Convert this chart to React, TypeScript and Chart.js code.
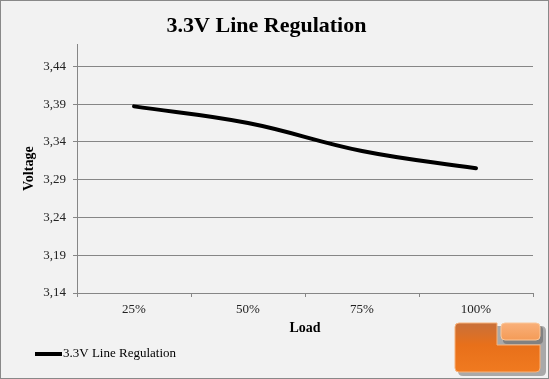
import React, { useEffect, useRef } from "react";
import { Chart, registerables } from "chart.js";

Chart.register(...registerables);

const categories = ["25%", "50%", "75%", "100%"];
const seriesLabel = "3.3V Line Regulation";
const voltages = [3.387, 3.365, 3.328, 3.305];
const yTickValues = [3.14, 3.19, 3.24, 3.29, 3.34, 3.39, 3.44];
const yMin = 3.14;
const yMax = 3.469;
const chartTitle = "3.3V Line Regulation";
const xTitle = "Load";
const yTitle = "Voltage";

const FONT = "'Liberation Serif', 'DejaVu Serif', serif";

const framePlugin = {
  id: "frame",
  beforeDraw(chart: any) {
    const { ctx, width, height } = chart;
    ctx.save();
    ctx.fillStyle = "#f2f2f2";
    ctx.fillRect(0, 0, width, height);
    ctx.strokeStyle = "#898989";
    ctx.lineWidth = 1;
    ctx.strokeRect(0.5, 0.5, width - 1, height - 1);
    ctx.restore();
  },
  afterDraw(chart: any) {
    const { ctx } = chart;
    // legend
    const ds = chart.data.datasets[0];
    ctx.save();
    ctx.strokeStyle = ds.borderColor;
    ctx.lineWidth = 4;
    ctx.lineCap = "butt";
    ctx.beginPath();
    ctx.moveTo(35, 354);
    ctx.lineTo(62, 354);
    ctx.stroke();
    ctx.fillStyle = "#000";
    ctx.font = `13px ${FONT}`;
    ctx.textBaseline = "middle";
    ctx.textAlign = "left";
    ctx.fillText(ds.label, 63, 354);
    ctx.restore();

    // logo
    ctx.save();
    const rr = (x: number, y: number, w: number, h: number, r: number) => {
      ctx.beginPath();
      ctx.moveTo(x + r, y);
      ctx.lineTo(x + w - r, y);
      ctx.quadraticCurveTo(x + w, y, x + w, y + r);
      ctx.lineTo(x + w, y + h - r);
      ctx.quadraticCurveTo(x + w, y + h, x + w - r, y + h);
      ctx.lineTo(x + r, y + h);
      ctx.quadraticCurveTo(x, y + h, x, y + h - r);
      ctx.lineTo(x, y + r);
      ctx.quadraticCurveTo(x, y, x + r, y);
      ctx.closePath();
    };
    // shadow
    ctx.fillStyle = "rgba(80,80,80,0.45)";
    rr(458, 326, 88, 50, 5);
    ctx.fill();
    // L shape
    const g = ctx.createLinearGradient(0, 323, 0, 372);
    g.addColorStop(0, "#c8703a");
    g.addColorStop(0.45, "#e8701a");
    g.addColorStop(1, "#f07a20");
    ctx.fillStyle = g;
    ctx.beginPath();
    ctx.moveTo(459, 323);
    ctx.lineTo(497, 323);
    ctx.lineTo(497, 345);
    ctx.lineTo(540, 345);
    ctx.lineTo(540, 368);
    ctx.quadraticCurveTo(540, 372, 536, 372);
    ctx.lineTo(459, 372);
    ctx.quadraticCurveTo(455, 372, 455, 368);
    ctx.lineTo(455, 327);
    ctx.quadraticCurveTo(455, 323, 459, 323);
    ctx.closePath();
    ctx.fill();
    ctx.strokeStyle = "#f8b27a";
    ctx.lineWidth = 1;
    ctx.stroke();
    // top right block
    const g2 = ctx.createLinearGradient(0, 323, 0, 341);
    g2.addColorStop(0, "#f9b07a");
    g2.addColorStop(1, "#f49a55");
    ctx.fillStyle = "rgba(90,90,90,0.5)";
    rr(503, 326, 40, 18, 4);
    ctx.fill();
    ctx.fillStyle = g2;
    rr(501, 323, 39, 17, 4);
    ctx.fill();
    ctx.strokeStyle = "#fbc79a";
    ctx.stroke();
    ctx.restore();
  },
};

export default function App() {
  const ref = useRef<HTMLCanvasElement | null>(null);
  useEffect(() => {
    if (!ref.current) return;
    const chart = new Chart(ref.current, {
      type: "line",
      data: {
        labels: categories,
        datasets: [
          {
            label: seriesLabel,
            data: voltages,
            borderColor: "#000000",
            backgroundColor: "#000000",
            borderWidth: 4,
            pointRadius: 0,
            tension: 0.4,
            fill: false,
            borderCapStyle: "round",
          },
        ],
      },
      options: {
        animation: false,
        responsive: false,
        layout: { padding: { left: 0, right: 16, top: 0, bottom: 41 } },
        plugins: {
          legend: { display: false },
          tooltip: { enabled: false },
          title: {
            display: true,
            text: chartTitle,
            color: "#000",
            font: { family: FONT, size: 22, weight: "bold" },
            padding: { top: 13, bottom: 5 },
          },
        },
        scales: {
          x: {
            offset: true,
            grid: {
              display: true,
              drawOnChartArea: false,
              offset: true,
              tickLength: 4,
              color: "#868686",
            },
            border: { color: "#868686", width: 1 },
            ticks: {
              color: "#222",
              font: { family: FONT, size: 13 },
              padding: 5,
            },
            title: {
              display: true,
              text: xTitle,
              color: "#000",
              font: { family: FONT, size: 14, weight: "bold" },
              padding: { top: 0, bottom: 1 },
            },
            afterFit(scale: any) {
              scale.height = 45;
            },
          },
          y: {
            min: yMin,
            max: yMax,
            afterBuildTicks(scale: any) {
              scale.ticks = yTickValues.map((v) => ({ value: v }));
            },
            grid: { color: "#868686", tickLength: 4, lineWidth: 1 },
            border: { color: "#868686", width: 1 },
            ticks: {
              color: "#222",
              font: { family: FONT, size: 13 },
              padding: 7,
              callback: (v: any) => Number(v).toFixed(2).replace(".", ","),
            },
            title: {
              display: true,
              text: yTitle,
              color: "#000",
              font: { family: FONT, size: 14, weight: "bold" },
              padding: { top: 21, bottom: 0 },
            },
            afterFit(scale: any) {
              scale.width = 77;
            },
          },
        },
      },
      plugins: [framePlugin],
    });
    return () => chart.destroy();
  }, []);
  return (
    <div style={{ position: "fixed", left: 0, top: 0, width: 549, height: 379 }}>
      <canvas ref={ref} width={549} height={379} style={{ width: 549, height: 379, display: "block" }} />
    </div>
  );
}
